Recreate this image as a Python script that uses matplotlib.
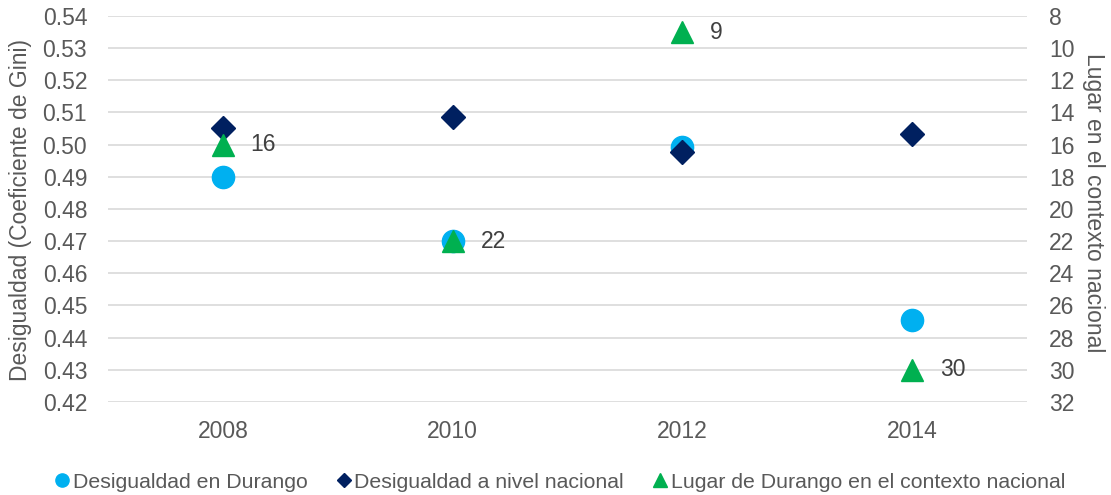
import matplotlib
matplotlib.use('Agg')
import matplotlib.pyplot as plt

plt.rcParams['font.family'] = ['Liberation Sans', 'DejaVu Sans']

# data
years = ['2008', '2010', '2012', '2014']
gini_durango = [0.490, 0.470, 0.4993, 0.4455]
gini_nacional = [0.5053, 0.5087, 0.4976, 0.5033]
lugar_durango = [16, 22, 9, 30]

txt = '#595959'
fs = 16.5
fig = plt.figure(figsize=(11.11, 4.95), dpi=100)
ax = fig.add_axes([0.0972, 0.1879, 0.8272, 0.7798])
ax2 = ax.twinx()

x = list(range(len(years)))
ax.plot(x, gini_durango, 'o', color='#00B0F0', markersize=16, linestyle='none', zorder=3)
ax.plot(x, gini_nacional, 'D', color='#002060', markersize=12, linestyle='none', zorder=3)
ax2.plot(x, lugar_durango, '^', color='#00B050', markersize=16, linestyle='none', zorder=4)
for xi, v in zip(x, lugar_durango):
    ax2.annotate(str(v), (xi, v), xytext=(20, 0), textcoords='offset points',
                 va='center', ha='left', fontsize=fs, color='#404040')

ax.set_xlim(-0.5, 3.5)
ax.set_ylim(0.42, 0.54)
ax.set_yticks([0.42 + 0.01 * i for i in range(13)])
ax.yaxis.set_major_formatter(matplotlib.ticker.FormatStrFormatter('%.2f'))
ax2.set_ylim(32, 8)
ax2.set_yticks(list(range(8, 33, 2)))
ax.set_xticks(x)
ax.set_xticklabels(years)

ax.grid(axis='y', color='#d9d9d9', linewidth=1.2)
ax.set_axisbelow(True)
for a in (ax, ax2):
    for s in a.spines.values():
        s.set_visible(False)
    a.tick_params(length=0, labelsize=fs, labelcolor=txt)
ax.tick_params(axis='x', pad=13)
ax.tick_params(axis='y', pad=15)
ax2.tick_params(axis='y', pad=16)

fig.text(21 / 1111, 0.575, 'Desigualdad (Coeficiente de Gini)', fontsize=fs, color=txt,
         rotation=90, ha='center', va='center')
fig.text(1093 / 1111, 0.59, 'Lugar en el contexto nacional', fontsize=fs, color=txt,
         rotation=-90, ha='center', va='center')

handles = [
    plt.Line2D([], [], marker='o', color='#00B0F0', linestyle='none', markersize=9.5),
    plt.Line2D([], [], marker='D', color='#002060', linestyle='none', markersize=7.5),
    plt.Line2D([], [], marker='^', color='#00B050', linestyle='none', markersize=9.5),
]
labels = ['Desigualdad en Durango', 'Desigualdad a nivel nacional',
          'Lugar de Durango en el contexto nacional']
fig.legend(handles, labels, loc='center', bbox_to_anchor=(0.504, 0.026), ncol=3,
           frameon=False, fontsize=15.3, labelcolor=txt, handletextpad=0.15,
           columnspacing=1.35, handlelength=0.7)

fig.savefig('out.png', dpi=100)
